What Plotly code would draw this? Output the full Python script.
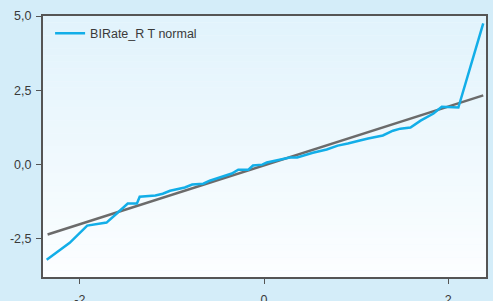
import plotly.graph_objects as go

# QQ plot data
qq_x = [-2.36, -2.11, -1.92, -1.71, -1.59, -1.48, -1.38, -1.35, -1.18, -1.10, -1.02,
        -0.95, -0.86, -0.78, -0.66, -0.59, -0.48, -0.40, -0.35, -0.28, -0.17, -0.12,
        -0.02, 0.03, 0.12, 0.20, 0.28, 0.36, 0.47, 0.53, 0.68, 0.80, 0.91, 0.96,
        1.04, 1.13, 1.18, 1.29, 1.40, 1.48, 1.59, 1.70, 1.84, 1.93, 2.11, 2.38]
qq_y = [-3.20, -2.63, -2.05, -1.95, -1.62, -1.31, -1.31, -1.08, -1.04, -0.98, -0.88,
        -0.84, -0.77, -0.67, -0.64, -0.54, -0.44, -0.37, -0.30, -0.17, -0.17, -0.03,
        0.00, 0.07, 0.13, 0.20, 0.24, 0.24, 0.34, 0.40, 0.51, 0.64, 0.71, 0.74,
        0.81, 0.88, 0.91, 0.98, 1.14, 1.21, 1.25, 1.48, 1.72, 1.95, 1.92, 4.75]
ref_x = [-2.35, 2.38]
ref_y = [-2.35, 2.33]

series_name = "BIRate_R T normal"
x_tickvals = [-2, 0, 2]
x_ticktext = ["-2", "0", "2"]
y_tickvals = [-2.5, 0.0, 2.5, 5.0]
y_ticktext = ["-2,5", "0,0", "2,5", "5,0"]

fig = go.Figure()
fig.add_trace(go.Scatter(x=ref_x, y=ref_y, mode="lines", showlegend=False,
                         line=dict(color="#6b6b6b", width=2.5)))
fig.add_trace(go.Scatter(x=qq_x, y=qq_y, mode="lines", name=series_name,
                         line=dict(color="#12aee8", width=2.5)))

# vertical gradient background in plot area
n = 40
top = (225, 243, 252)
bot = (252, 254, 255)
shapes = []
for i in range(n):
    t = i / (n - 1)
    c = tuple(round(top[k] + (bot[k] - top[k]) * t) for k in range(3))
    shapes.append(dict(type="rect", xref="paper", yref="paper", x0=0, x1=1,
                       y0=1 - (i + 1) / n, y1=1 - i / n, layer="below",
                       line=dict(width=0), fillcolor="rgb(%d,%d,%d)" % c))

fig.update_layout(
    width=493, height=301,
    margin=dict(l=43, r=7, t=16, b=24, autoexpand=False),
    paper_bgcolor="#d4edf9",
    plot_bgcolor="#f0f9fe",
    shapes=shapes,
    font=dict(family="Liberation Sans", size=12.5, color="#3a3a3a"),
    showlegend=True,
    legend=dict(x=0.016, y=0.99, xanchor="left", yanchor="top",
                bgcolor="rgba(0,0,0,0)", font=dict(size=12.5, color="#3a3a3a")),
    xaxis=dict(range=[-2.4, 2.41], tickvals=x_tickvals, ticktext=x_ticktext,
               showgrid=False, zeroline=False, showline=True, linecolor="#555555",
               linewidth=2, mirror=True, ticks="outside", ticklen=5,
               tickcolor="#555555", automargin=False, ticklabelstandoff=5),
    yaxis=dict(range=[-3.78, 5.0], tickvals=y_tickvals, ticktext=y_ticktext,
               showgrid=False, zeroline=False, showline=True, linecolor="#555555",
               linewidth=2, mirror=True, ticks="outside", ticklen=5,
               tickcolor="#555555", automargin=False, ticklabelstandoff=2),
)

fig.write_html("out.html", config={"displayModeBar": False},
               post_script="document.body.style.margin='0';")
